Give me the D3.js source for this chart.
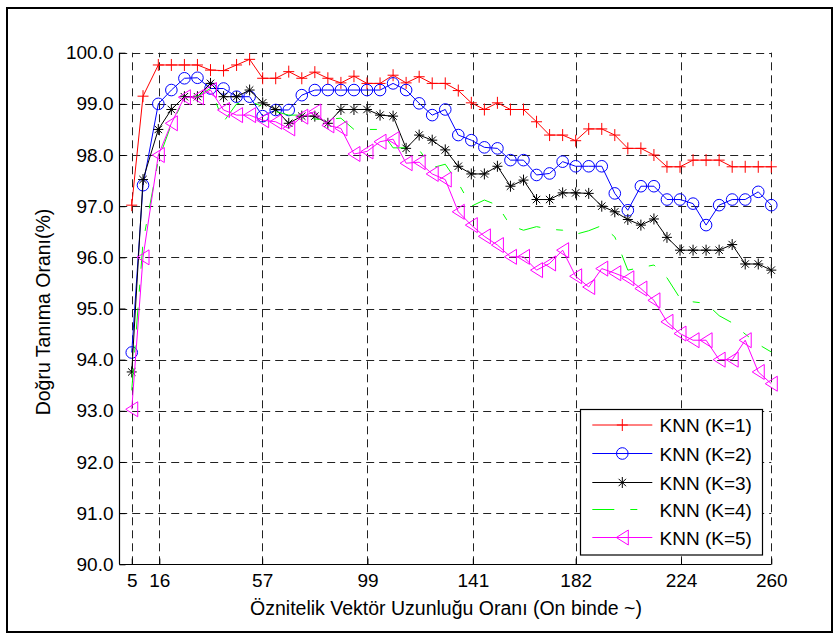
<!DOCTYPE html>
<html>
<head>
<meta charset="utf-8">
<script src="https://cdn.jsdelivr.net/npm/d3@7"></script>
<style>
  html, body { margin: 0; padding: 0; background: #fff; }
  svg { display: block; font-family: "Liberation Sans", Arial, Helvetica, sans-serif; }
</style>
</head>
<body>
<svg id="chart" width="840" height="635"></svg>
<script>
// Feature-vector length ratio (per ten thousand) for each evaluated setting
const xValues = [5, 9.5, 15.6, 20.8, 26, 31.2, 36.4, 41.6, 46.8, 52,
  57.2, 62.4, 67.6, 72.8, 78, 83.2, 88.4, 93.6, 98.8, 104,
  109.2, 114.4, 119.6, 124.8, 130, 135.2, 140.4, 145.6, 150.8, 156,
  161.2, 166.4, 171.6, 176.8, 182, 187.2, 192.4, 197.6, 202.8, 208,
  213.2, 218.4, 223.6, 228.8, 234, 239.2, 244.4, 249.6, 254.8, 260];

// Recognition rate (%) per classifier
const knn1 = [97.02, 99.15, 99.76, 99.76, 99.76, 99.76, 99.66, 99.65, 99.76, 99.87,
  99.5, 99.5, 99.63, 99.5, 99.62, 99.5, 99.41, 99.54, 99.4, 99.4,
  99.56, 99.41, 99.53, 99.4, 99.4, 99.26, 99.02, 98.89, 99.02, 98.89,
  98.89, 98.65, 98.39, 98.39, 98.28, 98.51, 98.51, 98.39, 98.13, 98.13,
  98.0, 97.77, 97.77, 97.9, 97.9, 97.9, 97.77, 97.77, 97.77, 97.77];

const knn2 = [94.14, 97.41, 99.0, 99.27, 99.5, 99.51, 99.3, 99.3, 99.14, 99.14,
  98.76, 98.88, 98.88, 99.17, 99.27, 99.27, 99.27, 99.27, 99.27, 99.27,
  99.4, 99.27, 99.01, 98.78, 98.89, 98.39, 98.29, 98.15, 98.13, 97.9,
  97.9, 97.61, 97.64, 97.87, 97.78, 97.78, 97.78, 97.25, 96.92, 97.39,
  97.39, 97.13, 97.13, 97.05, 96.63, 97.02, 97.13, 97.13, 97.28, 97.02];

const knn3 = [93.76, 97.52, 98.5, 98.89, 99.14, 99.14, 99.4, 99.14, 99.14, 99.27,
  99.02, 98.89, 98.62, 98.76, 98.76, 98.62, 98.89, 98.89, 98.89, 98.78,
  98.76, 98.13, 98.39, 98.29, 98.1, 97.78, 97.63, 97.63, 97.78, 97.39,
  97.51, 97.13, 97.13, 97.26, 97.26, 97.25, 97.0, 96.89, 96.74, 96.63,
  96.75, 96.39, 96.14, 96.14, 96.14, 96.14, 96.25, 95.87, 95.87, 95.75];

const knn4 = [93.4, 96.3, 97.9, 98.6, 99.1, 99.15, 99.3, 98.65, 99.0, 99.05,
  98.95, 98.85, 98.78, 98.78, 98.7, 98.7, 98.72, 98.5, 98.5, 98.5,
  98.14, 98.14, 98.1, 97.75, 97.82, 97.45, 97.0, 97.12, 97.02, 96.62,
  96.53, 96.6, 96.55, 96.53, 96.45, 96.52, 96.62, 96.4, 95.75, 95.8,
  95.85, 95.6, 95.2, 95.13, 95.1, 94.86, 94.72, 94.5, 94.3, 94.15];

const knn5 = [93.03, 96.0, 98.0, 98.62, 99.13, 99.13, 99.27, 98.88, 98.78, 98.78,
  98.68, 98.65, 98.52, 98.75, 98.85, 98.58, 98.52, 98.02, 98.07, 98.26,
  98.31, 97.84, 97.86, 97.63, 97.52, 96.89, 96.63, 96.41, 96.24, 96.01,
  96.01, 95.75, 95.88, 96.14, 95.63, 95.42, 95.78, 95.69, 95.59, 95.39,
  95.16, 94.74, 94.51, 94.38, 94.38, 94.0, 94.0, 94.38, 93.76, 93.53];

const seriesNames = ["KNN (K=1)", "KNN (K=2)", "KNN (K=3)", "KNN (K=4)", "KNN (K=5)"];
const seriesColors = ["#ff0000", "#0000ff", "#000000", "#00ff00", "#ff00ff"];
const seriesMarkers = ["plus", "circle", "star", "none", "triangleLeft"];
const seriesValues = [knn1, knn2, knn3, knn4, knn5];

const xTickValues = [5, 16, 57, 99, 141, 182, 224, 260];
const yTickValues = [90, 91, 92, 93, 94, 95, 96, 97, 98, 99, 100];

const xTitle = "Öznitelik Vektör Uzunluğu Oranı (On binde ~)";
const yTitle = "Doğru Tanıma Oranı(%)";

const svg = d3.select("#chart");

// Figure frame
svg.append("rect")
  .attr("x", 7).attr("y", 8).attr("width", 825).attr("height", 624)
  .attr("fill", "none").attr("stroke", "#000").attr("stroke-width", 2);

const x = d3.scaleLinear().domain([0, 260]).range([119.2, 771.3]);
const y = d3.scaleLinear().domain([90, 100]).range([564.3, 52.7]);

// Dashed grid
const grid = svg.append("g")
  .attr("stroke", "#222").attr("stroke-width", 1)
  .attr("stroke-dasharray", "8,5").attr("fill", "none");
grid.selectAll("line.gx").data(xTickValues).join("line")
  .attr("class", "gx")
  .attr("x1", d => Math.round(x(d)) + 0.5).attr("x2", d => Math.round(x(d)) + 0.5)
  .attr("y1", y(90)).attr("y2", y(100));
grid.selectAll("line.gy").data(yTickValues.filter(v => v > 90)).join("line")
  .attr("class", "gy")
  .attr("y1", d => Math.round(y(d)) + 0.5).attr("y2", d => Math.round(y(d)) + 0.5)
  .attr("x1", x(0)).attr("x2", x(260));

// Axes with inward ticks
const fontSize = 19;
const yAxis = svg.append("g")
  .attr("transform", `translate(${Math.round(x(0)) + 0.5},0)`)
  .call(d3.axisLeft(y).tickValues(yTickValues).tickFormat(d3.format(".1f"))
    .tickSize(-6).tickPadding(6));
const xAxis = svg.append("g")
  .attr("transform", `translate(0,${Math.round(y(90)) + 0.5})`)
  .call(d3.axisBottom(x).tickValues(xTickValues).tickFormat(d => String(d))
    .tickSize(-6).tickPadding(9.5));
[xAxis, yAxis].forEach(g => {
  g.select(".domain").attr("stroke", "#000").attr("stroke-width", 1.2);
  g.selectAll(".tick line").attr("stroke", "#000");
  g.selectAll(".tick text").attr("fill", "#000")
    .style("font-size", fontSize + "px")
    .style("font-family", "'Liberation Sans', Arial, Helvetica, sans-serif");
});
xAxis.select(".domain").attr("d", `M${x(0)},0H${x(260)}`);
yAxis.select(".domain").attr("d", `M0,${y(90)}V${y(100)}`);

// Axis titles
svg.append("text")
  .attr("x", 446).attr("y", 614.5)
  .attr("text-anchor", "middle")
  .style("font-size", "19.5px")
  .text(xTitle);
svg.append("text")
  .attr("transform", "translate(49.5,312) rotate(-90)")
  .attr("text-anchor", "middle")
  .style("font-size", "19.5px")
  .text(yTitle);

// Marker shapes
function drawMarker(sel, kind, color) {
  if (kind === "plus") {
    sel.append("path").attr("d", "M-5.5,0H5.5M0,-6V6")
      .attr("stroke", color).attr("fill", "none");
  } else if (kind === "circle") {
    sel.append("circle").attr("r", 5.8)
      .attr("stroke", color).attr("fill", "none");
  } else if (kind === "star") {
    sel.append("path")
      .attr("d", "M-5,0H5M0,-5.5V5.5M-3.7,-3.7L3.7,3.7M-3.7,3.7L3.7,-3.7")
      .attr("stroke", color).attr("fill", "none");
  } else if (kind === "triangleLeft") {
    sel.append("path").attr("d", "M-6,0L6,-7.5L6,7.5Z")
      .attr("stroke", color).attr("fill", "none");
  }
}

const line = d3.line().x(d => x(d[0])).y(d => y(d[1]));
const plot = svg.append("g");

seriesValues.forEach((vals, s) => {
  const pts = vals.map((v, i) => [xValues[i], v]);
  const g = plot.append("g");
  g.append("path")
    .attr("d", line(pts))
    .attr("fill", "none")
    .attr("stroke", seriesColors[s])
    .attr("stroke-width", 1)
    .attr("stroke-dasharray", seriesMarkers[s] === "none" ? "22,16,7,16" : null);
  if (seriesMarkers[s] !== "none") {
    g.selectAll("g.m").data(pts).join("g")
      .attr("class", "m")
      .attr("transform", d => `translate(${x(d[0])},${y(d[1])})`)
      .each(function () { drawMarker(d3.select(this), seriesMarkers[s], seriesColors[s]); });
  }
});

// Legend
const legend = svg.append("g");
legend.append("rect")
  .attr("x", 580.5).attr("y", 409.5).attr("width", 182).attr("height", 145.5)
  .attr("fill", "#fff").attr("stroke", "#000").attr("stroke-width", 1.2);
const legendRowY = [425, 453.5, 482.5, 509.5, 537.5];
seriesNames.forEach((name, s) => {
  const row = legend.append("g").attr("transform", `translate(0,${legendRowY[s]})`);
  row.append("line")
    .attr("x1", 592.3).attr("x2", 652.3)
    .attr("stroke", seriesColors[s]).attr("stroke-width", 1)
    .attr("stroke-dasharray", seriesMarkers[s] === "none" ? "22,16,7,16" : null);
  const m = row.append("g").attr("transform", "translate(622.3,0)");
  drawMarker(m, seriesMarkers[s], seriesColors[s]);
  row.append("text")
    .attr("x", 659.5).attr("y", 7)
    .style("font-size", fontSize + "px")
    .text(name);
});
</script>
</body>
</html>
